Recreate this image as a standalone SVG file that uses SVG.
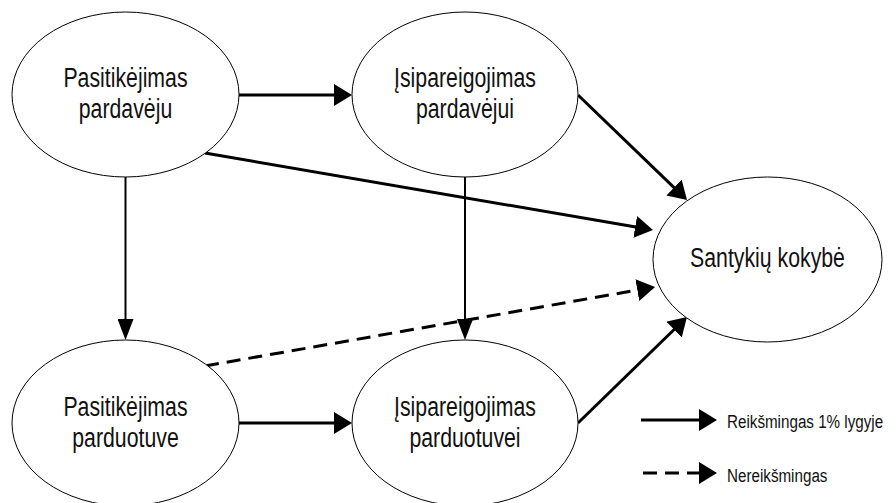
<svg xmlns="http://www.w3.org/2000/svg" width="896" height="503" viewBox="0 0 896 503">
<style>
  .node ellipse { fill: #ffffff; stroke: #000000; stroke-width: 1; }
  .node text { font-family: "Liberation Sans", Arial, sans-serif; font-size: 28px; fill: #111111; text-anchor: middle; }
  .legend text { font-family: "Liberation Sans", Arial, sans-serif; font-size: 19px; fill: #111111; }
  .thick { stroke: #000000; stroke-width: 3; fill: none; marker-end: url(#ahThick); }
  .thin { stroke: #000000; stroke-width: 2; fill: none; marker-end: url(#ahThin); }
  .dash { stroke-dasharray: 14 8; }
</style>
<defs>
  <marker id="ahThick" markerUnits="userSpaceOnUse" markerWidth="18" markerHeight="22" refX="8" refY="11" orient="auto">
    <path d="M0,0 L18,11 L0,22 z" fill="#000000"/>
  </marker>
  <marker id="ahThin" markerUnits="userSpaceOnUse" markerWidth="21" markerHeight="16" refX="11" refY="8" orient="auto">
    <path d="M0,0 L21,8 L0,16 z" fill="#000000"/>
  </marker>
</defs>
<rect width="896" height="503" fill="#ffffff"/>
<g id="connectors">
  <line class="thick" x1="239" y1="95" x2="342" y2="95"/>
  <line class="thick" x1="205" y1="153" x2="643.1" y2="228.3"/>
  <line class="thick" x1="578" y1="95" x2="679.8" y2="193.1"/>
  <line class="thin" x1="125.5" y1="177" x2="125.5" y2="330"/>
  <line class="thin" x1="465" y1="177" x2="465" y2="330"/>
  <line class="thick" x1="239" y1="423" x2="342" y2="423"/>
  <line class="thick dash" x1="205" y1="366" x2="645.2" y2="288.7"/>
  <line class="thick" x1="578" y1="423" x2="679.8" y2="324"/>
</g>
<g id="n1" class="node">
  <ellipse cx="125.5" cy="94.5" rx="113.5" ry="82.5"/>
  <text transform="translate(125.5,87) scale(0.76,1)">Pasitikėjimas</text>
  <text transform="translate(125.5,118) scale(0.76,1)">pardavėju</text>
</g>
<g id="n2" class="node">
  <ellipse cx="465" cy="94.5" rx="113" ry="82.5"/>
  <text transform="translate(465,87) scale(0.76,1)">Įsipareigojimas</text>
  <text transform="translate(465,118) scale(0.76,1)">pardavėjui</text>
</g>
<g id="n3" class="node">
  <ellipse cx="125.5" cy="423" rx="113.5" ry="83"/>
  <text transform="translate(125.5,415.5) scale(0.76,1)">Pasitikėjimas</text>
  <text transform="translate(125.5,446.5) scale(0.76,1)">parduotuve</text>
</g>
<g id="n4" class="node">
  <ellipse cx="465" cy="423" rx="113" ry="83"/>
  <text transform="translate(465,415.5) scale(0.76,1)">Įsipareigojimas</text>
  <text transform="translate(465,446.5) scale(0.76,1)">parduotuvei</text>
</g>
<g id="n5" class="node">
  <ellipse cx="767.5" cy="259.5" rx="114.5" ry="82.5"/>
  <text transform="translate(767.5,267) scale(0.76,1)">Santykių kokybė</text>
</g>
<g id="legend" class="legend">
  <line class="thick" x1="641" y1="420" x2="707" y2="420"/>
  <text transform="translate(727,428) scale(0.8,1)">Reikšmingas 1% lygyje</text>
  <line class="thick dash" x1="643" y1="473" x2="707" y2="473"/>
  <text transform="translate(727,482) scale(0.8,1)">Nereikšmingas</text>
</g>
</svg>
